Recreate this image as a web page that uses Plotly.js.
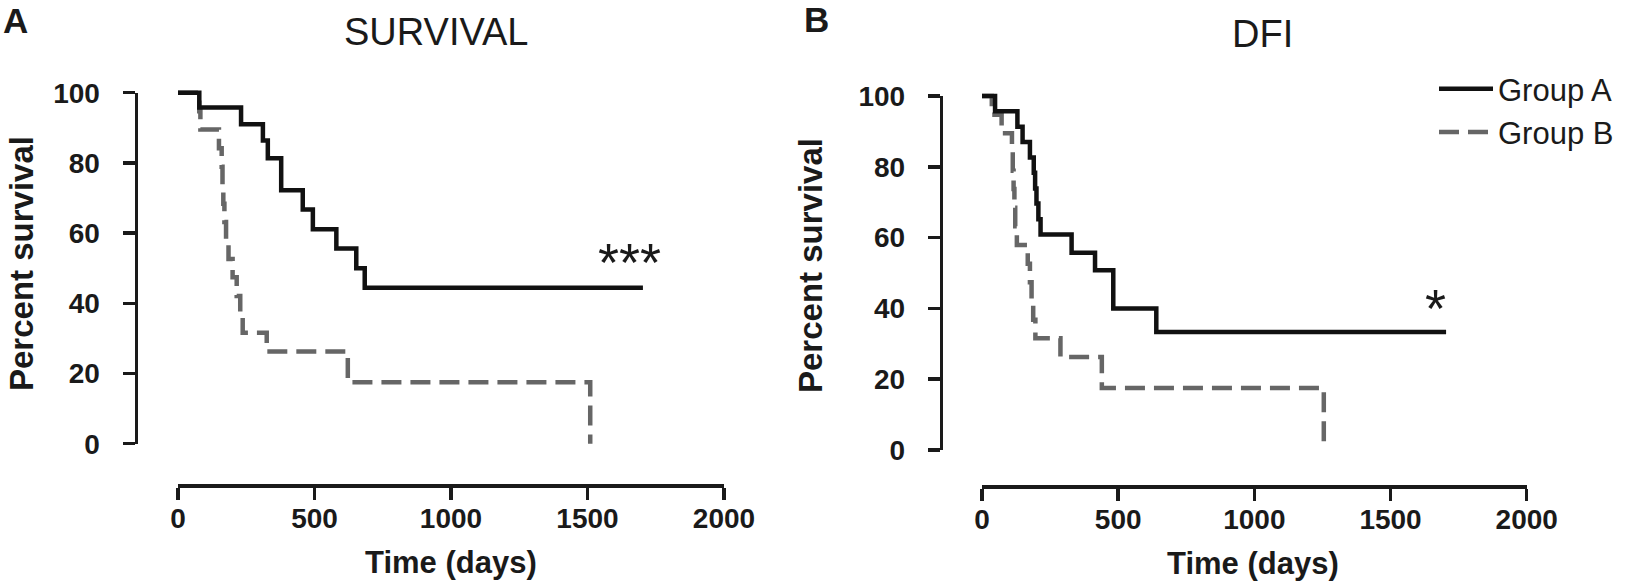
<!DOCTYPE html>
<html>
<head>
<meta charset="utf-8">
<title>Survival and DFI</title>
<script src="https://cdn.plot.ly/plotly-3.0.1.min.js"></script>
<style>
    html, body { margin: 0; padding: 0; background: #fff; }
    #chart { width: 1631px; height: 583px; }
</style>
</head>
<body>
<div id="chart"></div>
<script>
// Kaplan-Meier steps (time in days, percent surviving)
const survTimeA = [0, 78, 231, 311, 329, 378, 457, 494, 580, 653, 684, 1703];
const survPctA = [100, 95.8, 91.0, 86.4, 81.3, 72.2, 66.7, 61.1, 55.6, 50.0, 44.4, 44.4];
const survTimeB = [0, 78, 82, 150, 160, 163, 166, 170, 176, 185, 200, 215, 228, 237, 325, 622, 1510];
const survPctB = [100, 94.7, 89.5, 84.2, 78.9, 73.7, 68.4, 63.2, 57.9, 52.6, 47.4, 42.1, 36.8, 31.6, 26.3, 17.5, 0];

const dfiTimeA = [0, 48, 130, 149, 176, 190, 195, 200, 207, 215, 329, 415, 482, 640, 1704];
const dfiPctA = [100, 95.7, 91.3, 87.0, 82.6, 78.3, 73.9, 69.6, 65.2, 60.9, 55.7, 50.8, 40.0, 33.3, 33.3];
const dfiTimeB = [0, 36, 72, 110, 113, 116, 119, 122, 128, 168, 176, 182, 188, 196, 288, 440, 1255];
const dfiPctB = [100, 94.7, 89.5, 84.2, 78.9, 73.7, 68.4, 63.2, 57.9, 52.6, 47.4, 42.1, 36.8, 31.6, 26.3, 17.5, 0];

const groupNames = ['Group A', 'Group B'];
const xTicks = [0, 500, 1000, 1500, 2000];
const yTicks = [0, 20, 40, 60, 80, 100];

const W = 1631, H = 583;
const px = v => v / W;          // pixel -> paper x
const py = v => 1 - v / H;      // pixel -> paper y

const FONT = 'Liberation Sans, Arial, sans-serif';
const INK = '#1a1a1a';
const lineA = { color: '#111111', width: 4.5, shape: 'hv' };
const lineB = { color: '#666666', width: 4.5, shape: 'hv', dash: '20px,9px' };

const tickFont = { family: FONT, size: 28, color: INK, weight: 'bold' };

function stepTrace(x, y, name, line, xa, ya, showlegend) {
    return {
        x: x, y: y, name: name, type: 'scatter', mode: 'lines',
        line: line, xaxis: xa, yaxis: ya, showlegend: showlegend,
        legendgroup: name, hoverinfo: 'skip'
    };
}
// empty trace so the offset percent axis gets its own subplot
function axisHolder(xa, ya) {
    return { x: [], y: [], type: 'scatter', mode: 'lines', xaxis: xa, yaxis: ya, showlegend: false };
}

const data = [
    stepTrace(survTimeB, survPctB, groupNames[1], lineB, 'x', 'y', false),
    stepTrace(survTimeA, survPctA, groupNames[0], lineA, 'x', 'y', false),
    stepTrace(dfiTimeB, dfiPctB, groupNames[1], lineB, 'x2', 'y2', true),
    stepTrace(dfiTimeA, dfiPctA, groupNames[0], lineA, 'x2', 'y2', true),
    axisHolder('x3', 'y3'),
    axisHolder('x4', 'y4')
];
// legend order: Group A first
data[2].legendrank = 2;
data[3].legendrank = 1;

// visible time axis, shares the data y axis (which is hidden)
function timeAxis(domain, anchor) {
    return {
        domain: domain, anchor: anchor, range: [0, 2000],
        tickvals: xTicks, ticks: 'outside', ticklen: 12, tickwidth: 3.5, tickcolor: INK,
        showline: true, linewidth: 3.5, linecolor: INK,
        showgrid: false, zeroline: false, tickfont: tickFont, ticklabelstandoff: -5,
        fixedrange: true
    };
}
function hiddenAxis(domain, anchor, range) {
    return { domain: domain, anchor: anchor, range: range, visible: false, fixedrange: true };
}
// visible percent axis spanning exactly 0..100 (offset from the time axis)
function pctAxis(domain, anchor) {
    return {
        domain: domain, anchor: anchor, range: [0, 100],
        tickvals: yTicks, ticks: 'outside', ticklen: 12, tickwidth: 3.5, tickcolor: INK,
        showline: true, linewidth: 3.5, linecolor: INK,
        showgrid: false, zeroline: false, tickfont: tickFont, ticklabelstandoff: 17,
        fixedrange: true
    };
}

function note(text, x, y, size, extra) {
    return Object.assign({
        text: text, x: px(x), y: py(y), xref: 'paper', yref: 'paper',
        xanchor: 'center', yanchor: 'middle', showarrow: false,
        font: { family: FONT, size: size, color: INK }
    }, extra || {});
}
const bold = size => ({ font: { family: FONT, size: size, color: INK, weight: 'bold' } });

const layout = {
    width: W, height: H,
    margin: { l: 0, r: 0, t: 0, b: 0 },
    paper_bgcolor: '#fff', plot_bgcolor: 'rgba(0,0,0,0)',
    // SURVIVAL panel
    xaxis: timeAxis([px(178), px(724)], 'y'),
    yaxis: hiddenAxis([py(484), py(60)], 'x', [-11.48, 109.32]),
    xaxis3: hiddenAxis([px(138), px(150)], 'y3', [0, 1]),
    yaxis3: pctAxis([py(443.7), py(92.7)], 'x3'),
    // DFI panel
    xaxis2: timeAxis([px(982), px(1526.7)], 'y2'),
    yaxis2: hiddenAxis([py(485), py(60)], 'x2', [-9.89, 110.17]),
    xaxis4: hiddenAxis([px(943.3), px(955)], 'y4', [0, 1]),
    yaxis4: pctAxis([py(450), py(96)], 'x4'),
    legend: {
        x: px(1434), y: py(62), xanchor: 'left', yanchor: 'top',
        bgcolor: 'rgba(0,0,0,0)', itemwidth: 54,
        font: { family: FONT, size: 31, color: INK },
        traceorder: 'normal'
    },
    annotations: [
        note('A', 15, 21, 35, bold(35)),
        note('B', 816, 19, 35, bold(35)),
        note('SURVIVAL', 436, 32, 38),
        note('DFI', 1262, 34, 38),
        note('Percent survival', 21, 264, 33, Object.assign({ textangle: -90 }, bold(33))),
        note('Percent survival', 810, 266, 33, Object.assign({ textangle: -90 }, bold(33))),
        note('Time (days)', 451, 562, 31, bold(31)),
        note('Time (days)', 1253, 563, 31, bold(31)),
        note('***', 629, 262, 54),
        note('*', 1435, 308, 54)
    ],
    showlegend: true
};

Plotly.newPlot('chart', data, layout, { displayModeBar: false, staticPlot: true });
</script>
</body>
</html>
